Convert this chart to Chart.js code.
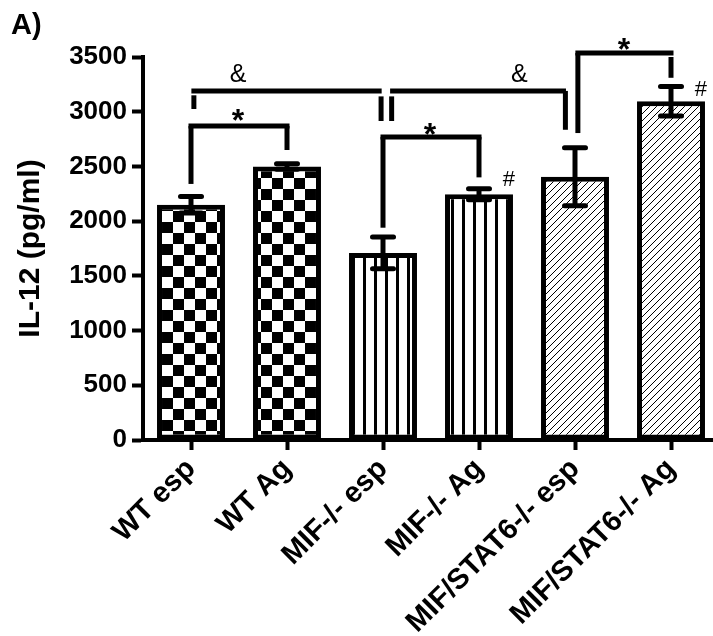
<!DOCTYPE html>
<html>
<head>
<meta charset="utf-8">
<script src="https://cdn.jsdelivr.net/npm/chart.js@4"></script>
<style>
  html, body { margin: 0; padding: 0; background: #fff; overflow: hidden; }
  #wrap { width: 720px; height: 636px; }
</style>
</head>
<body>
<div id="wrap"><canvas id="c" width="720" height="636"></canvas></div>
<script>
// IL-12 levels per group (pg/ml), mean and SEM
const categories = ['WT esp', 'WT Ag', 'MIF-/- esp', 'MIF-/- Ag', 'MIF/STAT6-/- esp', 'MIF/STAT6-/- Ag'];
const il12Means = [2150, 2500, 1710, 2245, 2405, 3095];
const il12Sem = [75, 25, 145, 50, 265, 135];
const yTickValues = [0, 500, 1000, 1500, 2000, 2500, 3000, 3500];
const fillKinds = ['checker', 'checker', 'stripes', 'stripes', 'hatch', 'hatch'];

// Significance brackets, in category units (x) and pg/ml (y)
const brackets = [
  { label: '*', x1: 0, x2: 1, top: 2870, leftArm: [2870, 2340], rightArm: [2870, 2650], labelAt: [0.49, 2990] },
  { label: '&', x1: 0.03, x2: 1.96, top: 3190, leftArm: [3150, 3025], rightArm: [3140, 2915], rightArmX: 1.98, labelAt: [0.49, 3335] },
  { label: '&', x1: 2.1, x2: 3.88, top: 3190, leftArm: [3140, 2915], leftArmX: 2.09, rightArm: [3190, 2835], rightArmX: 3.9, labelAt: [3.42, 3335] },
  { label: '*', x1: 2, x2: 3, top: 2770, leftArm: [2770, 1940], rightArm: [2770, 2400], labelAt: [2.49, 2860] },
  { label: '*', x1: 4.03, x2: 5, top: 3537, leftArm: [3537, 2805], rightArm: [3500, 3310], labelAt: [4.51, 3637] }
];
// '#' marks beside bars
const hashMarks = [
  { x: 3.31, y: 2376 },
  { x: 5.31, y: 3198 }
];

const FONT = "'Liberation Sans', Arial, Helvetica, sans-serif";
Chart.defaults.font.family = FONT;
Chart.defaults.color = '#000';

function makePattern(kind) {
  const t = document.createElement('canvas');
  const g = t.getContext('2d');
  let pat;
  if (kind === 'checker') {
    t.width = 22; t.height = 22;
    g.fillStyle = '#fff'; g.fillRect(0, 0, 22, 22);
    g.fillStyle = '#000';
    g.fillRect(0, 0, 11, 11); g.fillRect(11, 11, 11, 11);
    pat = g.createPattern(t, 'repeat');
    pat.setTransform(new DOMMatrix().translate(8, 2));
  } else if (kind === 'stripes') {
    t.width = 11; t.height = 11;
    g.fillStyle = '#fff'; g.fillRect(0, 0, 11, 11);
    g.fillStyle = '#000'; g.fillRect(0, 0, 3, 11);
    pat = g.createPattern(t, 'repeat');
  } else {
    t.width = 7; t.height = 7;
    g.fillStyle = '#fff'; g.fillRect(0, 0, 7, 7);
    g.strokeStyle = '#000'; g.lineWidth = 1.0;
    g.beginPath();
    g.moveTo(-1, 8); g.lineTo(8, -1);
    g.moveTo(-2, 2); g.lineTo(2, -2);
    g.moveTo(5, 9); g.lineTo(9, 5);
    g.stroke();
    pat = g.createPattern(t, 'repeat');
  }
  return pat;
}

const overlay = {
  id: 'overlay',
  afterDatasetsDraw(chart) {
    const { ctx, scales: { x, y } } = chart;
    const seg = (x1, y1, x2, y2) => { ctx.beginPath(); ctx.moveTo(x1, y1); ctx.lineTo(x2, y2); ctx.stroke(); };
    ctx.save();
    ctx.strokeStyle = '#000';
    ctx.fillStyle = '#000';

    // error bars (SEM)
    il12Means.forEach((m, i) => {
      const px = x.getPixelForValue(i);
      const hi = y.getPixelForValue(m + il12Sem[i]);
      const lo = y.getPixelForValue(m - il12Sem[i]);
      ctx.lineWidth = 5;
      ctx.lineCap = 'butt';
      seg(px, hi, px, lo);
      ctx.lineCap = 'round';
      seg(px - 10.5, hi, px + 10.5, hi);
      seg(px - 10.5, lo, px + 10.5, lo);
    });

    // significance brackets
    ctx.lineCap = 'butt';
    ctx.lineWidth = 5;
    ctx.textAlign = 'center';
    brackets.forEach(b => {
      const lx = x.getPixelForValue(b.leftArmX !== undefined ? b.leftArmX : b.x1);
      const rx = x.getPixelForValue(b.rightArmX !== undefined ? b.rightArmX : b.x2);
      const ty = y.getPixelForValue(b.top);
      seg(x.getPixelForValue(b.x1) - 2.5, ty, x.getPixelForValue(b.x2) + 2.5, ty);
      seg(lx, y.getPixelForValue(b.leftArm[0]), lx, y.getPixelForValue(b.leftArm[1]));
      seg(rx, y.getPixelForValue(b.rightArm[0]), rx, y.getPixelForValue(b.rightArm[1]));
      const cx = x.getPixelForValue(b.labelAt[0]);
      const cy = y.getPixelForValue(b.labelAt[1]);
      if (b.label === '*') {
        ctx.font = 'bold 32px ' + FONT;
        ctx.textBaseline = 'alphabetic';
        ctx.fillText(b.label, cx, cy + 18);
      } else {
        ctx.font = '25px ' + FONT;
        ctx.textBaseline = 'middle';
        ctx.fillText(b.label, cx, cy);
      }
    });

    ctx.font = '22px ' + FONT;
    ctx.textBaseline = 'middle';
    hashMarks.forEach(h => ctx.fillText('#', x.getPixelForValue(h.x), y.getPixelForValue(h.y)));
    ctx.restore();
  },
  afterDraw(chart) {
    const { ctx } = chart;
    ctx.save();
    ctx.fillStyle = '#000';
    ctx.font = 'bold 29px ' + FONT;
    ctx.textAlign = 'left';
    ctx.textBaseline = 'alphabetic';
    ctx.fillText('A)', 11, 34);
    ctx.restore();
  }
};

new Chart(document.getElementById('c'), {
  type: 'bar',
  data: {
    labels: categories,
    datasets: [{
      label: 'IL-12',
      data: il12Means,
      backgroundColor: fillKinds.map(makePattern),
      borderColor: '#000',
      borderWidth: 5,
      borderSkipped: false,
      categoryPercentage: 1,
      barPercentage: 0.708
    }]
  },
  options: {
    responsive: false,
    animation: false,
    events: [],
    layout: { padding: { top: 57, right: 1, left: 0, bottom: 0 } },
    plugins: { legend: { display: false }, tooltip: { enabled: false } },
    scales: {
      x: {
        grid: { display: true, drawOnChartArea: false, offset: false, tickLength: 10, tickWidth: 4, tickColor: '#000', color: '#000' },
        border: { display: true, color: '#000', width: 4 },
        ticks: { font: { size: 29, weight: 'bold' }, color: '#000', minRotation: 45, maxRotation: 45, padding: 2, autoSkip: false },
        afterFit(scale) { scale.height = 196; }
      },
      y: {
        min: 0,
        max: 3500,
        afterBuildTicks(scale) { scale.ticks = yTickValues.map(v => ({ value: v })); },
        grid: { display: true, drawOnChartArea: false, tickLength: 11, tickWidth: 4, tickColor: '#000', color: '#000' },
        border: { display: true, color: '#000', width: 4 },
        ticks: { font: { size: 26, weight: 'bold' }, color: '#000', padding: 5, callback: v => String(v) },
        title: { display: true, text: 'IL-12 (pg/ml)', font: { size: 30, weight: 'bold' }, color: '#000', padding: { top: 13, bottom: 0 } },
        afterFit(scale) { scale.width = 143; }
      }
    }
  },
  plugins: [overlay]
});
</script>
</body>
</html>
